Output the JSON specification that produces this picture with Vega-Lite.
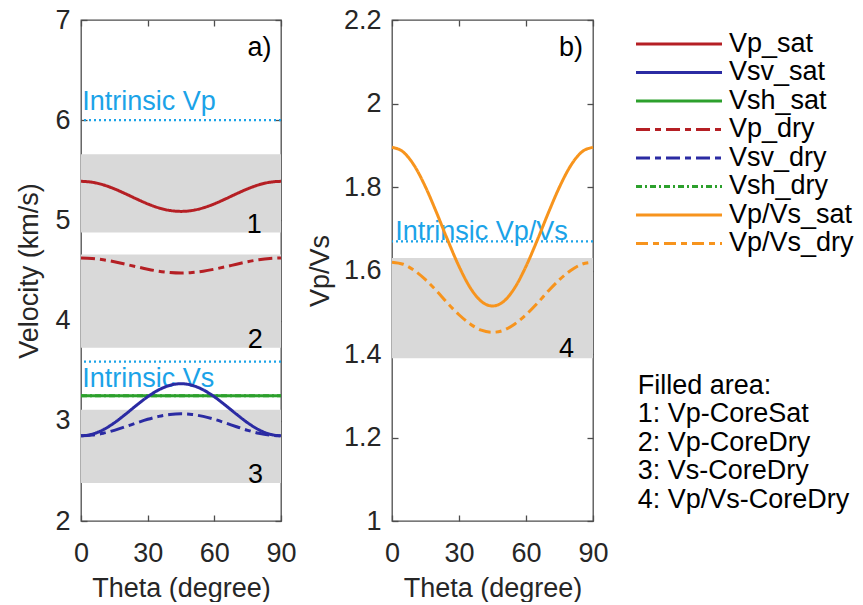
{
  "$schema": "https://vega.github.io/schema/vega-lite/v6.json",
  "padding": {"left": 15, "top": 5, "right": 0, "bottom": 0},
  "config": {
    "font": "Liberation Sans",
    "view": {"stroke": "#4d4d4d", "strokeWidth": 1.3},
    "axis": {"labelFont": "Liberation Sans", "titleFont": "Liberation Sans", "labelFontSize": 27, "titleFontSize": 27, "titleFontWeight": "normal", "labelColor": "#262626", "titleColor": "#262626", "domain": false, "ticks": true, "tickColor": "#4d4d4d", "tickSize": -6, "tickWidth": 1.3, "grid": false, "labelPadding": 17, "labelFlush": false, "labelOverlap": false, "zindex": 1},
    "text": {"font": "Liberation Sans", "fontSize": 27}
  },
  "datasets": {
    "bandsA": [{"band": "1", "lo": 4.88, "hi": 5.66}, {"band": "2", "lo": 3.73, "hi": 4.66}, {"band": "3", "lo": 2.38, "hi": 3.11}],
    "bandsB": [{"band": "4", "lo": 1.39, "hi": 1.63}],
    "intrA": [{"value": 6.0}, {"value": 3.59}],
    "intrB": [{"value": 1.67}],
    "numA": [{"theta": 78, "value": 4.95, "label": "1"}, {"theta": 78.4, "value": 3.81, "label": "2"}, {"theta": 78.5, "value": 2.455, "label": "3"}, {"theta": 80.3, "value": 6.72, "label": "a)"}],
    "blueA": [{"theta": 0.6, "value": 6.1, "label": "Intrinsic Vp"}, {"theta": 0.6, "value": 3.34, "label": "Intrinsic Vs"}],
    "numB": [{"theta": 78.1, "value": 1.411, "label": "4"}, {"theta": 80.1, "value": 2.134, "label": "b)"}],
    "blueB": [{"theta": 1.4, "value": 1.673, "label": "Intrinsic Vp/Vs"}],
    "curvesA": [
      {"series": "Vsh_dry", "theta": 0, "value": 3.25}, {"series": "Vsh_dry", "theta": 45, "value": 3.25}, {"series": "Vsh_dry", "theta": 90, "value": 3.25},
      {"series": "Vsh_sat", "theta": 0, "value": 3.25}, {"series": "Vsh_sat", "theta": 45, "value": 3.25}, {"series": "Vsh_sat", "theta": 90, "value": 3.25},
      {"series": "Vp_sat", "theta": 0, "value": 5.39}, {"series": "Vp_sat", "theta": 5, "value": 5.381}, {"series": "Vp_sat", "theta": 10, "value": 5.355}, {"series": "Vp_sat", "theta": 15, "value": 5.315}, {"series": "Vp_sat", "theta": 20, "value": 5.266}, {"series": "Vp_sat", "theta": 25, "value": 5.214}, {"series": "Vp_sat", "theta": 30, "value": 5.165}, {"series": "Vp_sat", "theta": 35, "value": 5.125}, {"series": "Vp_sat", "theta": 40, "value": 5.099}, {"series": "Vp_sat", "theta": 45, "value": 5.09}, {"series": "Vp_sat", "theta": 50, "value": 5.099}, {"series": "Vp_sat", "theta": 55, "value": 5.125}, {"series": "Vp_sat", "theta": 60, "value": 5.165}, {"series": "Vp_sat", "theta": 65, "value": 5.214}, {"series": "Vp_sat", "theta": 70, "value": 5.266}, {"series": "Vp_sat", "theta": 75, "value": 5.315}, {"series": "Vp_sat", "theta": 80, "value": 5.355}, {"series": "Vp_sat", "theta": 85, "value": 5.381}, {"series": "Vp_sat", "theta": 90, "value": 5.39},
      {"series": "Vp_dry", "theta": 0, "value": 4.625}, {"series": "Vp_dry", "theta": 5, "value": 4.62}, {"series": "Vp_dry", "theta": 10, "value": 4.607}, {"series": "Vp_dry", "theta": 15, "value": 4.588}, {"series": "Vp_dry", "theta": 20, "value": 4.563}, {"series": "Vp_dry", "theta": 25, "value": 4.537}, {"series": "Vp_dry", "theta": 30, "value": 4.513}, {"series": "Vp_dry", "theta": 35, "value": 4.493}, {"series": "Vp_dry", "theta": 40, "value": 4.48}, {"series": "Vp_dry", "theta": 45, "value": 4.475}, {"series": "Vp_dry", "theta": 50, "value": 4.48}, {"series": "Vp_dry", "theta": 55, "value": 4.493}, {"series": "Vp_dry", "theta": 60, "value": 4.513}, {"series": "Vp_dry", "theta": 65, "value": 4.537}, {"series": "Vp_dry", "theta": 70, "value": 4.563}, {"series": "Vp_dry", "theta": 75, "value": 4.588}, {"series": "Vp_dry", "theta": 80, "value": 4.607}, {"series": "Vp_dry", "theta": 85, "value": 4.62}, {"series": "Vp_dry", "theta": 90, "value": 4.625},
      {"series": "Vsv_sat", "theta": 0, "value": 2.85}, {"series": "Vsv_sat", "theta": 5, "value": 2.866}, {"series": "Vsv_sat", "theta": 10, "value": 2.911}, {"series": "Vsv_sat", "theta": 15, "value": 2.98}, {"series": "Vsv_sat", "theta": 20, "value": 3.065}, {"series": "Vsv_sat", "theta": 25, "value": 3.155}, {"series": "Vsv_sat", "theta": 30, "value": 3.24}, {"series": "Vsv_sat", "theta": 35, "value": 3.309}, {"series": "Vsv_sat", "theta": 40, "value": 3.354}, {"series": "Vsv_sat", "theta": 45, "value": 3.37}, {"series": "Vsv_sat", "theta": 50, "value": 3.354}, {"series": "Vsv_sat", "theta": 55, "value": 3.309}, {"series": "Vsv_sat", "theta": 60, "value": 3.24}, {"series": "Vsv_sat", "theta": 65, "value": 3.155}, {"series": "Vsv_sat", "theta": 70, "value": 3.065}, {"series": "Vsv_sat", "theta": 75, "value": 2.98}, {"series": "Vsv_sat", "theta": 80, "value": 2.911}, {"series": "Vsv_sat", "theta": 85, "value": 2.866}, {"series": "Vsv_sat", "theta": 90, "value": 2.85},
      {"series": "Vsv_dry", "theta": 0, "value": 2.85}, {"series": "Vsv_dry", "theta": 5, "value": 2.857}, {"series": "Vsv_dry", "theta": 10, "value": 2.876}, {"series": "Vsv_dry", "theta": 15, "value": 2.905}, {"series": "Vsv_dry", "theta": 20, "value": 2.941}, {"series": "Vsv_dry", "theta": 25, "value": 2.979}, {"series": "Vsv_dry", "theta": 30, "value": 3.015}, {"series": "Vsv_dry", "theta": 35, "value": 3.044}, {"series": "Vsv_dry", "theta": 40, "value": 3.063}, {"series": "Vsv_dry", "theta": 45, "value": 3.07}, {"series": "Vsv_dry", "theta": 50, "value": 3.063}, {"series": "Vsv_dry", "theta": 55, "value": 3.044}, {"series": "Vsv_dry", "theta": 60, "value": 3.015}, {"series": "Vsv_dry", "theta": 65, "value": 2.979}, {"series": "Vsv_dry", "theta": 70, "value": 2.941}, {"series": "Vsv_dry", "theta": 75, "value": 2.905}, {"series": "Vsv_dry", "theta": 80, "value": 2.876}, {"series": "Vsv_dry", "theta": 85, "value": 2.857}, {"series": "Vsv_dry", "theta": 90, "value": 2.85}
    ],
    "curvesB": [
      {"series": "Vp/Vs_sat", "theta": 0, "value": 1.895}, {"series": "Vp/Vs_sat", "theta": 5, "value": 1.884}, {"series": "Vp/Vs_sat", "theta": 10, "value": 1.851}, {"series": "Vp/Vs_sat", "theta": 15, "value": 1.8}, {"series": "Vp/Vs_sat", "theta": 20, "value": 1.738}, {"series": "Vp/Vs_sat", "theta": 25, "value": 1.672}, {"series": "Vp/Vs_sat", "theta": 30, "value": 1.61}, {"series": "Vp/Vs_sat", "theta": 35, "value": 1.559}, {"series": "Vp/Vs_sat", "theta": 40, "value": 1.526}, {"series": "Vp/Vs_sat", "theta": 45, "value": 1.515}, {"series": "Vp/Vs_sat", "theta": 50, "value": 1.526}, {"series": "Vp/Vs_sat", "theta": 55, "value": 1.559}, {"series": "Vp/Vs_sat", "theta": 60, "value": 1.61}, {"series": "Vp/Vs_sat", "theta": 65, "value": 1.672}, {"series": "Vp/Vs_sat", "theta": 70, "value": 1.738}, {"series": "Vp/Vs_sat", "theta": 75, "value": 1.8}, {"series": "Vp/Vs_sat", "theta": 80, "value": 1.851}, {"series": "Vp/Vs_sat", "theta": 85, "value": 1.884}, {"series": "Vp/Vs_sat", "theta": 90, "value": 1.895},
      {"series": "Vp/Vs_dry", "theta": 0, "value": 1.62}, {"series": "Vp/Vs_dry", "theta": 5, "value": 1.615}, {"series": "Vp/Vs_dry", "theta": 10, "value": 1.6}, {"series": "Vp/Vs_dry", "theta": 15, "value": 1.578}, {"series": "Vp/Vs_dry", "theta": 20, "value": 1.551}, {"series": "Vp/Vs_dry", "theta": 25, "value": 1.521}, {"series": "Vp/Vs_dry", "theta": 30, "value": 1.494}, {"series": "Vp/Vs_dry", "theta": 35, "value": 1.472}, {"series": "Vp/Vs_dry", "theta": 40, "value": 1.457}, {"series": "Vp/Vs_dry", "theta": 45, "value": 1.452}, {"series": "Vp/Vs_dry", "theta": 50, "value": 1.457}, {"series": "Vp/Vs_dry", "theta": 55, "value": 1.472}, {"series": "Vp/Vs_dry", "theta": 60, "value": 1.494}, {"series": "Vp/Vs_dry", "theta": 65, "value": 1.521}, {"series": "Vp/Vs_dry", "theta": 70, "value": 1.551}, {"series": "Vp/Vs_dry", "theta": 75, "value": 1.578}, {"series": "Vp/Vs_dry", "theta": 80, "value": 1.6}, {"series": "Vp/Vs_dry", "theta": 85, "value": 1.615}, {"series": "Vp/Vs_dry", "theta": 90, "value": 1.62}
    ],
    "legend": [
      {"row": 0, "series": "Vp_sat"}, {"row": 1, "series": "Vsv_sat"}, {"row": 2, "series": "Vsh_sat"}, {"row": 3, "series": "Vp_dry"},
      {"row": 4, "series": "Vsv_dry"}, {"row": 5, "series": "Vsh_dry"}, {"row": 6, "series": "Vp/Vs_sat"}, {"row": 7, "series": "Vp/Vs_dry"}
    ],
    "filled": [
      {"row": 12, "text": "Filled area:"}, {"row": 13, "text": "1: Vp-CoreSat"}, {"row": 14, "text": "2: Vp-CoreDry"},
      {"row": 15, "text": "3: Vs-CoreDry"}, {"row": 16, "text": "4: Vp/Vs-CoreDry"}
    ]
  },
  "bounds": "flush",
  "spacing": 111,
  "hconcat": [
    {
      "width": 200,
      "height": 501,
      "resolve": {"axis": {"x": "independent", "y": "independent"}},
      "layer": [
        {
          "data": {"name": "bandsA"},
          "mark": {"type": "rect", "color": "#d9d9d9"},
          "encoding": {
            "x": {"datum": 0, "type": "quantitative", "scale": {"domain": [0, 90], "nice": false, "zero": false}, "axis": {"orient": "bottom", "values": [0, 30, 60, 90], "title": "Theta (degree)", "titlePadding": 9, "labelPadding": 25}},
            "x2": {"datum": 90},
            "y": {"field": "lo", "type": "quantitative", "scale": {"domain": [2, 7], "nice": false, "zero": false}, "axis": {"orient": "left", "values": [2, 3, 4, 5, 6, 7], "title": "Velocity (km/s)", "titlePadding": 11}},
            "y2": {"field": "hi"}
          }
        },
        {
          "data": {"name": "intrA"},
          "mark": {"type": "rule", "color": "#1ba3e8", "strokeWidth": 2.2, "strokeDash": [2, 3]},
          "encoding": {"y": {"field": "value", "type": "quantitative", "axis": null}}
        },
        {
          "data": {"name": "blueA"},
          "mark": {"type": "text", "align": "left", "baseline": "alphabetic", "color": "#1ba3e8"},
          "encoding": {
            "x": {"field": "theta", "type": "quantitative", "axis": null},
            "y": {"field": "value", "type": "quantitative", "axis": null},
            "text": {"field": "label"}
          }
        },
        {
          "data": {"name": "curvesA"},
          "mark": {"type": "line", "interpolate": "monotone"},
          "encoding": {
            "x": {"field": "theta", "type": "quantitative", "axis": {"orient": "top", "values": [0, 30, 60, 90], "labels": false, "title": null}},
            "y": {"field": "value", "type": "quantitative", "axis": {"orient": "right", "values": [2, 3, 4, 5, 6, 7], "labels": false, "title": null}},
            "color": {"field": "series", "type": "nominal", "legend": null, "scale": {"domain": ["Vp_sat", "Vsv_sat", "Vsh_sat", "Vp_dry", "Vsv_dry", "Vsh_dry", "Vp/Vs_sat", "Vp/Vs_dry"], "range": ["#b51f24", "#2b2ba3", "#2ca02c", "#b51f24", "#2b2ba3", "#2ca02c", "#f7941d", "#f7941d"]}},
            "strokeDash": {"field": "series", "type": "nominal", "legend": null, "scale": {"domain": ["Vp_sat", "Vsv_sat", "Vsh_sat", "Vp_dry", "Vsv_dry", "Vsh_dry", "Vp/Vs_sat", "Vp/Vs_dry"], "range": [[1, 0], [1, 0], [1, 0], [14, 5, 6, 5], [14, 5, 6, 5], [6, 3, 2, 3], [1, 0], [12, 5, 6, 5]]}},
            "strokeWidth": {"field": "series", "type": "ordinal", "legend": null, "scale": {"domain": ["Vp_sat", "Vsv_sat", "Vsh_sat", "Vp_dry", "Vsv_dry", "Vsh_dry", "Vp/Vs_sat", "Vp/Vs_dry"], "range": [3, 3, 3, 3, 3, 2, 3, 3]}}
          }
        },
        {
          "data": {"name": "numA"},
          "mark": {"type": "text", "align": "center", "baseline": "middle", "color": "#000000"},
          "encoding": {
            "x": {"field": "theta", "type": "quantitative", "axis": null},
            "y": {"field": "value", "type": "quantitative", "axis": null},
            "text": {"field": "label"}
          }
        }
      ]
    },
    {
      "width": 201,
      "height": 501,
      "resolve": {"axis": {"x": "independent", "y": "independent"}},
      "layer": [
        {
          "data": {"name": "bandsB"},
          "mark": {"type": "rect", "color": "#d9d9d9"},
          "encoding": {
            "x": {"datum": 0, "type": "quantitative", "scale": {"domain": [0, 90], "nice": false, "zero": false}, "axis": {"orient": "bottom", "values": [0, 30, 60, 90], "title": "Theta (degree)", "titlePadding": 9, "labelPadding": 25}},
            "x2": {"datum": 90},
            "y": {"field": "lo", "type": "quantitative", "scale": {"domain": [1, 2.2], "nice": false, "zero": false}, "axis": {"orient": "left", "values": [1, 1.2, 1.4, 1.6, 1.8, 2, 2.2], "format": "~g", "title": "Vp/Vs", "titlePadding": 9}},
            "y2": {"field": "hi"}
          }
        },
        {
          "data": {"name": "intrB"},
          "mark": {"type": "rule", "color": "#1ba3e8", "strokeWidth": 2.2, "strokeDash": [2, 3]},
          "encoding": {"y": {"field": "value", "type": "quantitative", "axis": null}}
        },
        {
          "data": {"name": "blueB"},
          "mark": {"type": "text", "align": "left", "baseline": "alphabetic", "color": "#1ba3e8"},
          "encoding": {
            "x": {"field": "theta", "type": "quantitative", "axis": null},
            "y": {"field": "value", "type": "quantitative", "axis": null},
            "text": {"field": "label"}
          }
        },
        {
          "data": {"name": "curvesB"},
          "mark": {"type": "line", "interpolate": "monotone"},
          "encoding": {
            "x": {"field": "theta", "type": "quantitative", "axis": {"orient": "top", "values": [0, 30, 60, 90], "labels": false, "title": null}},
            "y": {"field": "value", "type": "quantitative", "axis": {"orient": "right", "values": [1, 1.2, 1.4, 1.6, 1.8, 2, 2.2], "labels": false, "title": null}},
            "color": {"field": "series", "type": "nominal", "legend": null, "scale": {"domain": ["Vp_sat", "Vsv_sat", "Vsh_sat", "Vp_dry", "Vsv_dry", "Vsh_dry", "Vp/Vs_sat", "Vp/Vs_dry"], "range": ["#b51f24", "#2b2ba3", "#2ca02c", "#b51f24", "#2b2ba3", "#2ca02c", "#f7941d", "#f7941d"]}},
            "strokeDash": {"field": "series", "type": "nominal", "legend": null, "scale": {"domain": ["Vp_sat", "Vsv_sat", "Vsh_sat", "Vp_dry", "Vsv_dry", "Vsh_dry", "Vp/Vs_sat", "Vp/Vs_dry"], "range": [[1, 0], [1, 0], [1, 0], [14, 5, 6, 5], [14, 5, 6, 5], [6, 3, 2, 3], [1, 0], [12, 5, 6, 5]]}},
            "strokeWidth": {"field": "series", "type": "ordinal", "legend": null, "scale": {"domain": ["Vp_sat", "Vsv_sat", "Vsh_sat", "Vp_dry", "Vsv_dry", "Vsh_dry", "Vp/Vs_sat", "Vp/Vs_dry"], "range": [3, 3, 3, 3, 3, 2, 3, 3]}}
          }
        },
        {
          "data": {"name": "numB"},
          "mark": {"type": "text", "align": "center", "baseline": "middle", "color": "#000000"},
          "encoding": {
            "x": {"field": "theta", "type": "quantitative", "axis": null},
            "y": {"field": "value", "type": "quantitative", "axis": null},
            "text": {"field": "label"}
          }
        }
      ]
    },
    {
      "width": 161,
      "height": 501,
      "view": {"stroke": null},
      "layer": [
        {
          "data": {"name": "legend"},
          "mark": {"type": "rule"},
          "encoding": {
            "x": {"datum": 0, "type": "quantitative", "scale": {"domain": [0.7907, 2.6628], "nice": false, "zero": false}, "axis": null},
            "x2": {"datum": 1},
            "y": {"field": "row", "type": "quantitative", "scale": {"domain": [-0.842, 16.737], "reverse": true, "nice": false, "zero": false}, "axis": null},
            "color": {"field": "series", "type": "nominal", "legend": null, "scale": {"domain": ["Vp_sat", "Vsv_sat", "Vsh_sat", "Vp_dry", "Vsv_dry", "Vsh_dry", "Vp/Vs_sat", "Vp/Vs_dry"], "range": ["#b51f24", "#2b2ba3", "#2ca02c", "#b51f24", "#2b2ba3", "#2ca02c", "#f7941d", "#f7941d"]}},
            "strokeDash": {"field": "series", "type": "nominal", "legend": null, "scale": {"domain": ["Vp_sat", "Vsv_sat", "Vsh_sat", "Vp_dry", "Vsv_dry", "Vsh_dry", "Vp/Vs_sat", "Vp/Vs_dry"], "range": [[1, 0], [1, 0], [1, 0], [14, 5, 6, 5], [14, 5, 6, 5], [6, 3, 2, 3], [1, 0], [12, 5, 6, 5]]}},
            "strokeWidth": {"field": "series", "type": "ordinal", "legend": null, "scale": {"domain": ["Vp_sat", "Vsv_sat", "Vsh_sat", "Vp_dry", "Vsv_dry", "Vsh_dry", "Vp/Vs_sat", "Vp/Vs_dry"], "range": [3, 3, 3, 3, 3, 2, 3, 3]}}
          }
        },
        {
          "data": {"name": "legend"},
          "mark": {"type": "text", "align": "left", "baseline": "middle", "color": "#000000"},
          "encoding": {
            "x": {"datum": 1.081, "type": "quantitative"},
            "y": {"field": "row", "type": "quantitative"},
            "text": {"field": "series"}
          }
        },
        {
          "data": {"name": "filled"},
          "mark": {"type": "text", "align": "left", "baseline": "middle", "color": "#000000"},
          "encoding": {
            "x": {"datum": 0.02, "type": "quantitative"},
            "y": {"field": "row", "type": "quantitative"},
            "text": {"field": "text"}
          }
        }
      ]
    }
  ]
}
